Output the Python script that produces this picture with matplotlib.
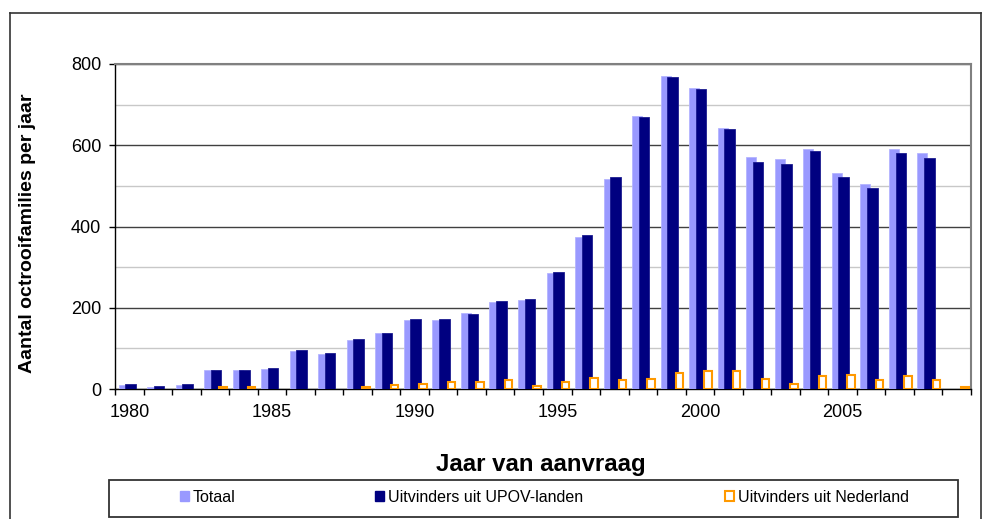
import matplotlib
matplotlib.use('Agg')
import matplotlib.pyplot as plt
from matplotlib.patches import Rectangle, Patch
from matplotlib.lines import Line2D
from matplotlib.ticker import FixedLocator, NullFormatter
from matplotlib import font_manager
import numpy as np

plt.rcParams['font.family'] = ['Liberation Sans', 'DejaVu Sans']

years = list(range(1980, 2010))
totaal = [10, 5, 10, 46, 46, 50, 94, 85, 121, 139, 169, 169, 188, 215, 219,
          286, 375, 518, 673, 771, 740, 642, 572, 567, 590, 531, 505, 590, 580, 0]
upov = [12, 7, 12, 48, 48, 52, 97, 88, 123, 137, 172, 172, 185, 216, 221,
        288, 378, 521, 670, 769, 738, 640, 560, 555, 587, 521, 494, 582, 569, 0]
nederland = [0, 0, 0, 5, 5, 0, 0, 0, 5, 9, 13, 18, 18, 22, 8,
             18, 26, 21, 25, 39, 44, 44, 25, 13, 31, 35, 23, 31, 23, 4]
year_labels = [1980, 1985, 1990, 1995, 2000, 2005]
series_names = ['Totaal', 'Uitvinders uit UPOV-landen', 'Uitvinders uit Nederland']

W, H = 984, 519
fig = plt.figure(figsize=(W / 100, H / 100), dpi=100)
ax = fig.add_axes([115 / W, 1 - 389 / H, (971 - 115) / W, (389 - 64) / H])

x = np.arange(len(years))
t = np.array(totaal, dtype=float)
u = np.array(upov, dtype=float)
n = np.array(nederland, dtype=float)

c_tot, c_upov, c_ned = '#9999FF', '#000080', '#FF9900'

mt, mu, mn = t > 0, u > 0, n > 0
ax.bar(x[mt] - 0.20, t[mt], width=0.35, color=c_tot, edgecolor='#B4B4FF',
       linewidth=0.6, zorder=3)
ax.bar(x[mu] + 0.04, u[mu], width=0.37, color=c_upov, edgecolor='#1C1C90',
       linewidth=0.6, zorder=4)
ax.bar(x[mn] + 0.29, n[mn], width=0.26, color='white', edgecolor=c_ned,
       linewidth=1.5, zorder=5)

ax.set_xlim(-0.5, len(years) - 0.5)
ax.set_ylim(0, 800)

# y axis
ax.set_yticks([0, 200, 400, 600, 800])
ax.yaxis.set_minor_locator(FixedLocator([100, 300, 500, 700]))
ax.tick_params(axis='y', which='major', direction='out', length=4, width=1,
               labelsize=13, pad=6, colors='black')
ax.tick_params(axis='y', which='minor', length=0)
ax.yaxis.grid(True, which='major', color='#404040', linewidth=1, zorder=0)
ax.yaxis.grid(True, which='minor', color='#C8C8C8', linewidth=1, zorder=0)
ax.set_axisbelow(True)

# x axis: tick marks at category boundaries, labels at centers
ax.set_xticks(np.arange(-0.5, len(years), 1))
ax.xaxis.set_major_formatter(NullFormatter())
ax.tick_params(axis='x', which='major', direction='out', length=4, width=1)
lab_pos = [years.index(y) for y in year_labels]
ax.xaxis.set_minor_locator(FixedLocator(lab_pos))
ax.set_xticklabels([str(y) for y in year_labels], minor=True)
ax.tick_params(axis='x', which='minor', length=0, labelsize=13, pad=10.5)

for s in ['left', 'bottom']:
    ax.spines[s].set_color('black')
    ax.spines[s].set_linewidth(1)
for s in ['top', 'right']:
    ax.spines[s].set_color('#808080')
    ax.spines[s].set_linewidth(1.5)

fig.text(28 / W, 1 - 233 / H, 'Aantal octrooifamilies per jaar', rotation=90,
         fontsize=14, fontweight='bold', ha='center', va='center')
fig.text(541 / W, 1 - 465 / H, 'Jaar van aanvraag', fontsize=17.3,
         fontweight='bold', ha='center', va='center')

# outer border
for xs, ys in [([10, 10], [H, 13]), ([10, 981], [13, 13]), ([981, 981], [13, H])]:
    fig.add_artist(Line2D([v / W for v in xs], [1 - v / H for v in ys],
                          color='#333333', linewidth=1.2, transform=fig.transFigure))

# legend box
fig.add_artist(Rectangle((109 / W, 1 - 517 / H), (958 - 109) / W, (517 - 480) / H,
                         transform=fig.transFigure, fill=False,
                         edgecolor='#333333', linewidth=1.3))

names = {f.name for f in font_manager.fontManager.ttflist}
if 'Liberation Sans Narrow' in names:
    leg_font = {'family': ['Liberation Sans Narrow', 'DejaVu Sans'], 'size': 13.8}
else:
    leg_font = {'family': ['Liberation Sans', 'DejaVu Sans'], 'size': 11.5}

handles = [Patch(facecolor=c_tot, edgecolor=c_tot),
           Patch(facecolor=c_upov, edgecolor=c_upov),
           Patch(facecolor='white', edgecolor=c_ned, linewidth=1.5)]
lx = [180, 375, 725]
for h, name, xx in zip(handles, series_names, lx):
    fig.legend(handles=[h], labels=[name], loc='center left',
               bbox_to_anchor=(xx / W, 1 - 497 / H), frameon=False,
               prop=leg_font, handlelength=0.55, handleheight=0.65,
               handletextpad=0.25, borderpad=0, borderaxespad=0)

fig.savefig('out.png', dpi=100)
